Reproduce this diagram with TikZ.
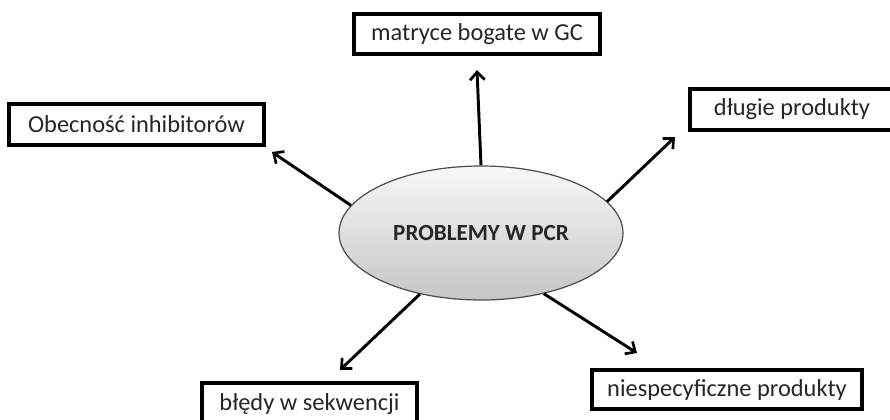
\documentclass[tikz,border=0pt]{standalone}
\usepackage{fontspec}
\setmainfont{Carlito}
\usepackage{tikz}
\usetikzlibrary{shapes,arrows.meta,calc}

\tikzset{
    probbox/.style={draw=black, line width=2.3pt, fill=white, text=black!85,
        inner sep=0pt, font=\fontsize{18.3}{22}\selectfont},
    arr/.style={line width=2.2pt, -{Straight Barb[length=6pt,width=11pt,line width=2pt]}}
}

\begin{document}
\begin{tikzpicture}[x=0.75pt, y=-0.75pt]
    \useasboundingbox (0,0) rectangle (890,419);

    % Centre
    \node[ellipse, draw=gray!60!black, line width=0.9pt, top color=gray!6, bottom color=gray!45,
        minimum width=284*0.75pt, minimum height=134*0.75pt, font=\bfseries\fontsize{17.3}{21}\selectfont, text=black!85]
        (ell) at (481,233) {PROBLEMY W PCR};

    % Boxes
    \node[probbox, minimum width=255*0.75pt, minimum height=41*0.75pt] (inhib) at (136.5,124.5) {Obecność inhibitorów};
    \node[probbox, minimum width=246*0.75pt, minimum height=40*0.75pt] (gc) at (477,34) {matryce bogate w GC};
    \node[probbox, minimum width=204*0.75pt, minimum height=41*0.75pt] (dlugie) at (792,109.5) {długie produkty};
    \node[probbox, minimum width=215*0.75pt, minimum height=42*0.75pt] (bledy) at (309.5,404) {błędy w sekwencji};
    \node[probbox, minimum width=270*0.75pt, minimum height=39*0.75pt] (niesp) at (727,389.5) {niespecyficzne produkty};

    % Arrow tips
    \coordinate (tinhib) at (272,152);
    \coordinate (tgc) at (477,70);
    \coordinate (tdlugie) at (675,137);
    \coordinate (tbledy) at (340,370);
    \coordinate (tniesp) at (637,353);

    % Arrows
    \draw[arr] (ell.168.8) -- (tinhib);
    \draw[arr] (ell.90) -- (tgc);
    \draw[arr] (ell.14.7) -- (tdlugie);
    \draw[arr] (ell.225.4) -- (tbledy);
    \draw[arr] (ell.316.8) -- (tniesp);
\end{tikzpicture}
\end{document}
